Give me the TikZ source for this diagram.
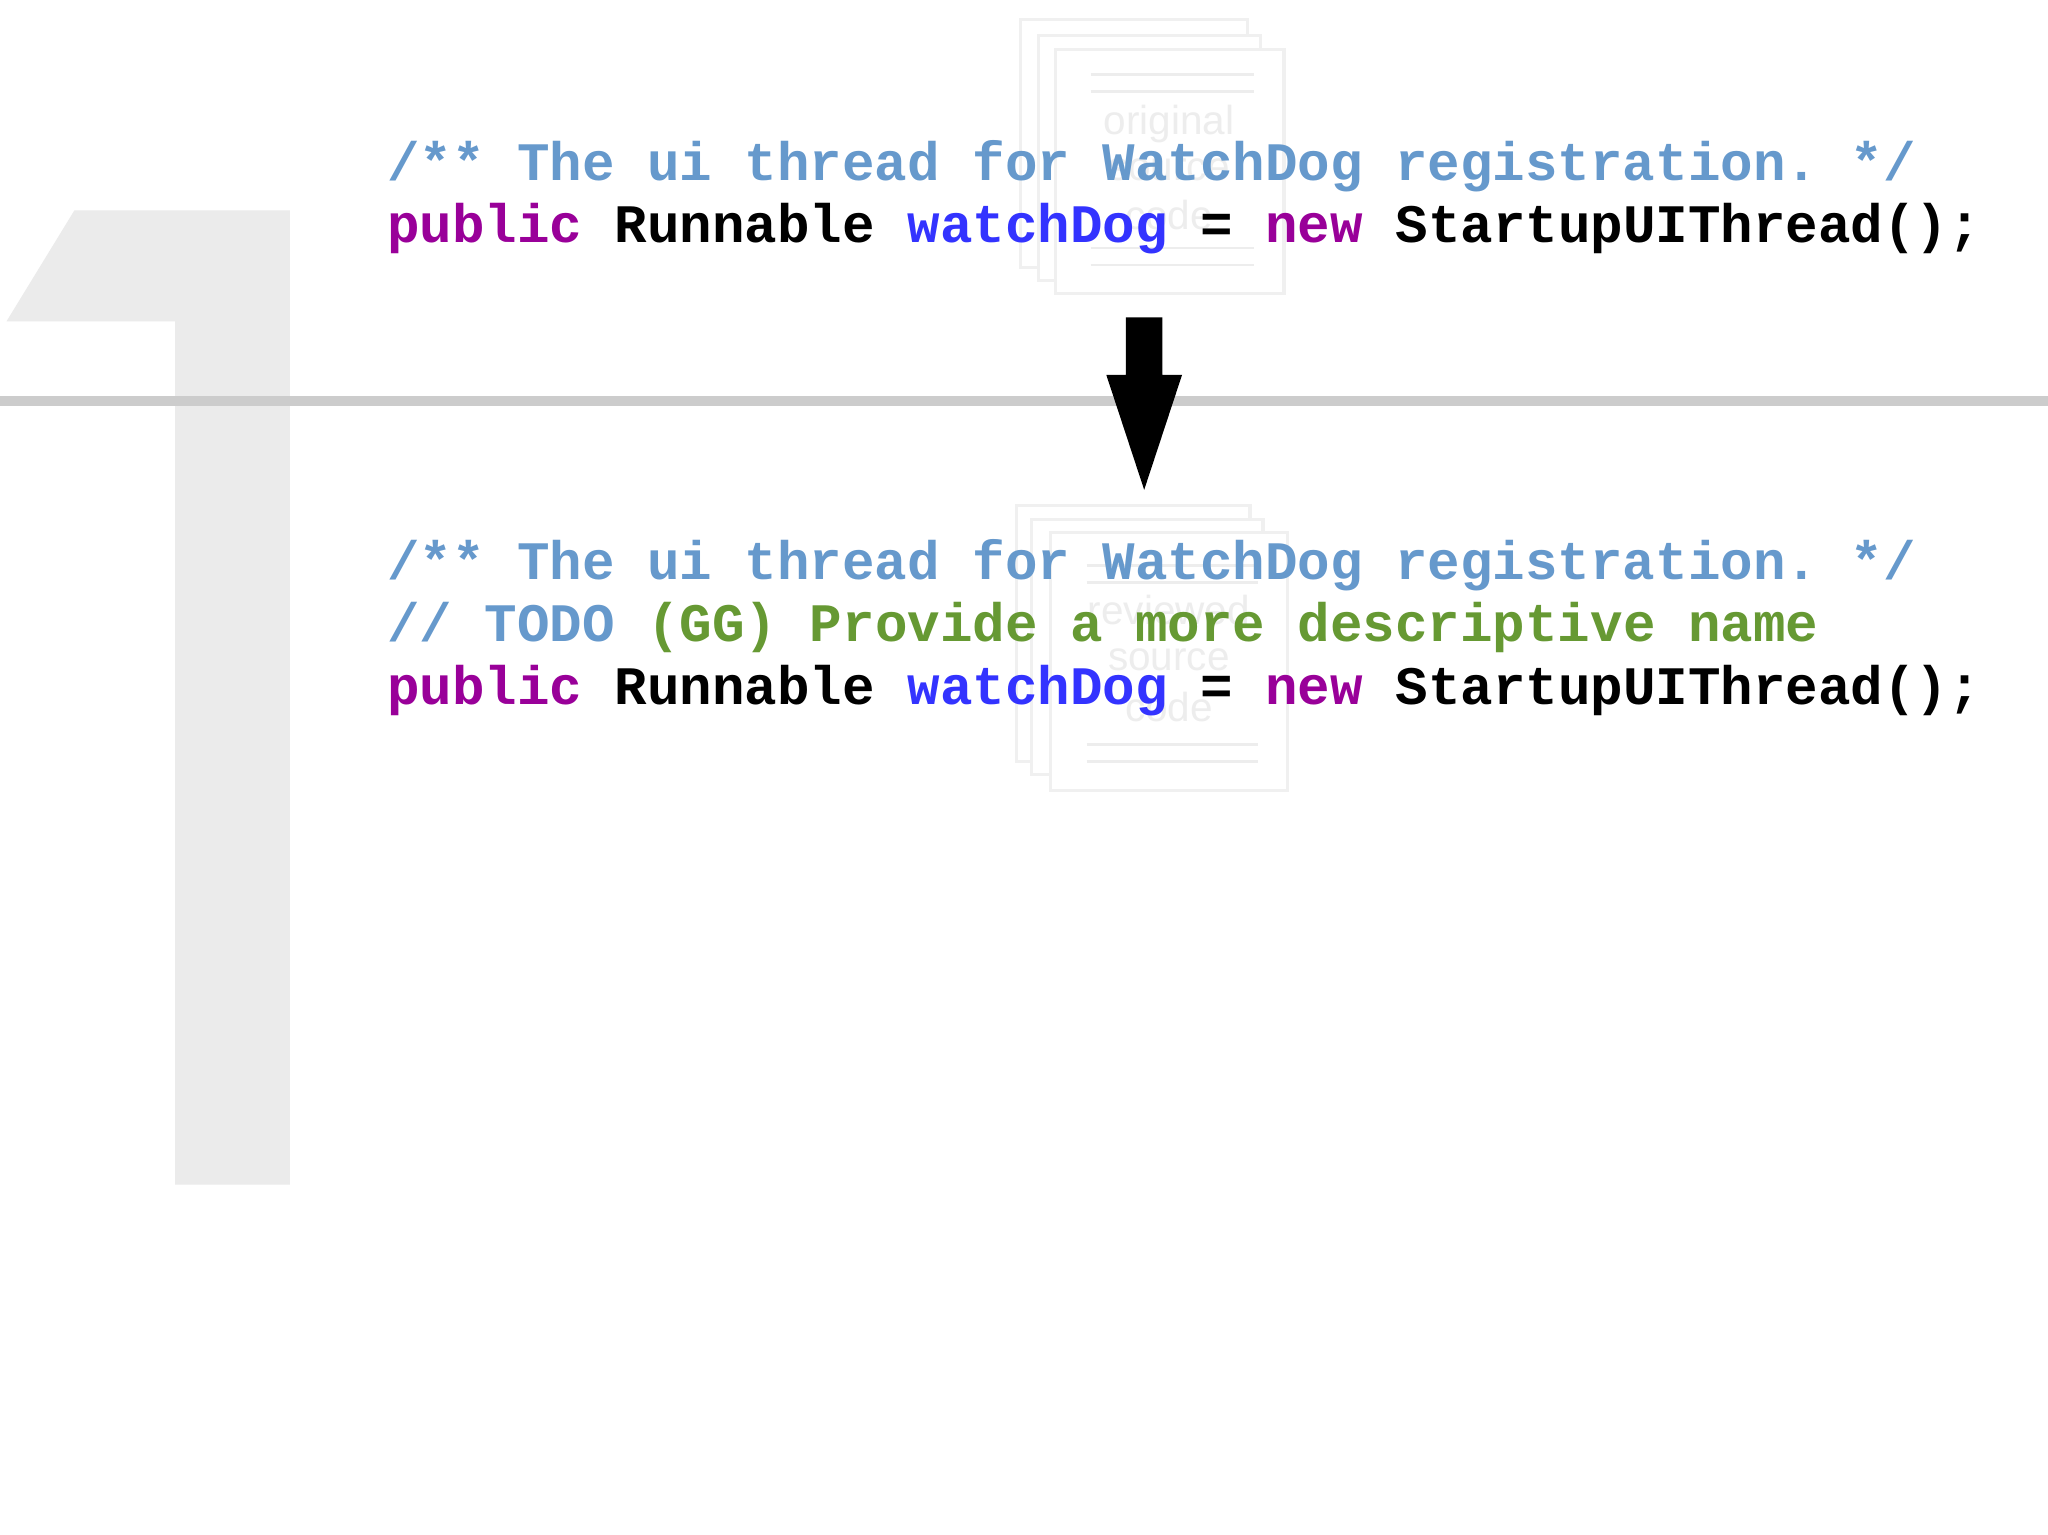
\documentclass[tikz,border=0pt]{standalone}
\usepackage{fontspec}
\setmonofont{Liberation Mono}
\setsansfont{Liberation Sans}
\begin{document}
\begin{tikzpicture}[x=0.5pt,y=-0.5pt,
  code/.style={anchor=base west,inner sep=0pt,font=\ttfamily\bfseries\fontsize{20.75pt}{24pt}\selectfont},
  page/.style={draw=black!6,fill=white,line width=1.2pt},
  faint/.style={font=\sffamily\fontsize{15.5pt}{17pt}\selectfont,text=black!7}]
\definecolor{cmt}{HTML}{6699CC}
\definecolor{kw}{HTML}{990099}
\definecolor{idf}{HTML}{3333FF}
\definecolor{todo}{HTML}{669933}
\definecolor{onegray}{HTML}{EBEBEB}
\useasboundingbox (0,0) rectangle (1568,1175);
\fill[white] (0,0) rectangle (1568,1175);
% big 1
\fill[onegray] (57,161) -- (222,161) -- (222,907) -- (134,907) -- (134,246) -- (5,246) -- cycle;
\fill[black!20] (0,303) rectangle (1568,311);
% document stacks
\draw[page] (781,15) rectangle (955,205);
\draw[page] (795,27) rectangle (965,215);
\draw[page] (808,38) rectangle (983,225);
\foreach \yy in {57,70,190,203} \draw[black!7,line width=1pt] (835,\yy) -- (960,\yy);
\node[faint] (o1) at (895,95) {original};
\node[faint] (o2) at (895,130) {source};
\node[faint] (o3) at (895,165) {code};
\draw[page] (778,387) rectangle (957,583);
\draw[page] (790,398) rectangle (967,593);
\draw[page] (804,408) rectangle (986,605);
\foreach \yy in {433,446,570,583} \draw[black!7,line width=1pt] (832,\yy) -- (963,\yy);
\node[faint] (r1) at (895,467) {reviewed};
\node[faint] (r2) at (895,505) {source};
\node[faint] (r3) at (895,541) {code};
% code top
\node[code,text=cmt] (t1) at (296,138) {/** The ui thread for WatchDog registration. */};
\node[code] (t2) at (296,186) {\textcolor{kw}{public} Runnable \textcolor{idf}{watchDog} = \textcolor{kw}{new} StartupUIThread();};
% arrow
\fill[black] (862,243) -- (890,243) -- (890,287) -- (905,287) -- (876,375) -- (847,287) -- (862,287) -- cycle;
% code bottom
\node[code,text=cmt] (b1) at (296,444) {/** The ui thread for WatchDog registration. */};
\node[code,text=todo] (b2) at (296,491) {\textcolor{cmt}{// TODO} (GG) Provide a more descriptive name};
\node[code] (b3) at (296,539) {\textcolor{kw}{public} Runnable \textcolor{idf}{watchDog} = \textcolor{kw}{new} StartupUIThread();};
\end{tikzpicture}
\end{document}
